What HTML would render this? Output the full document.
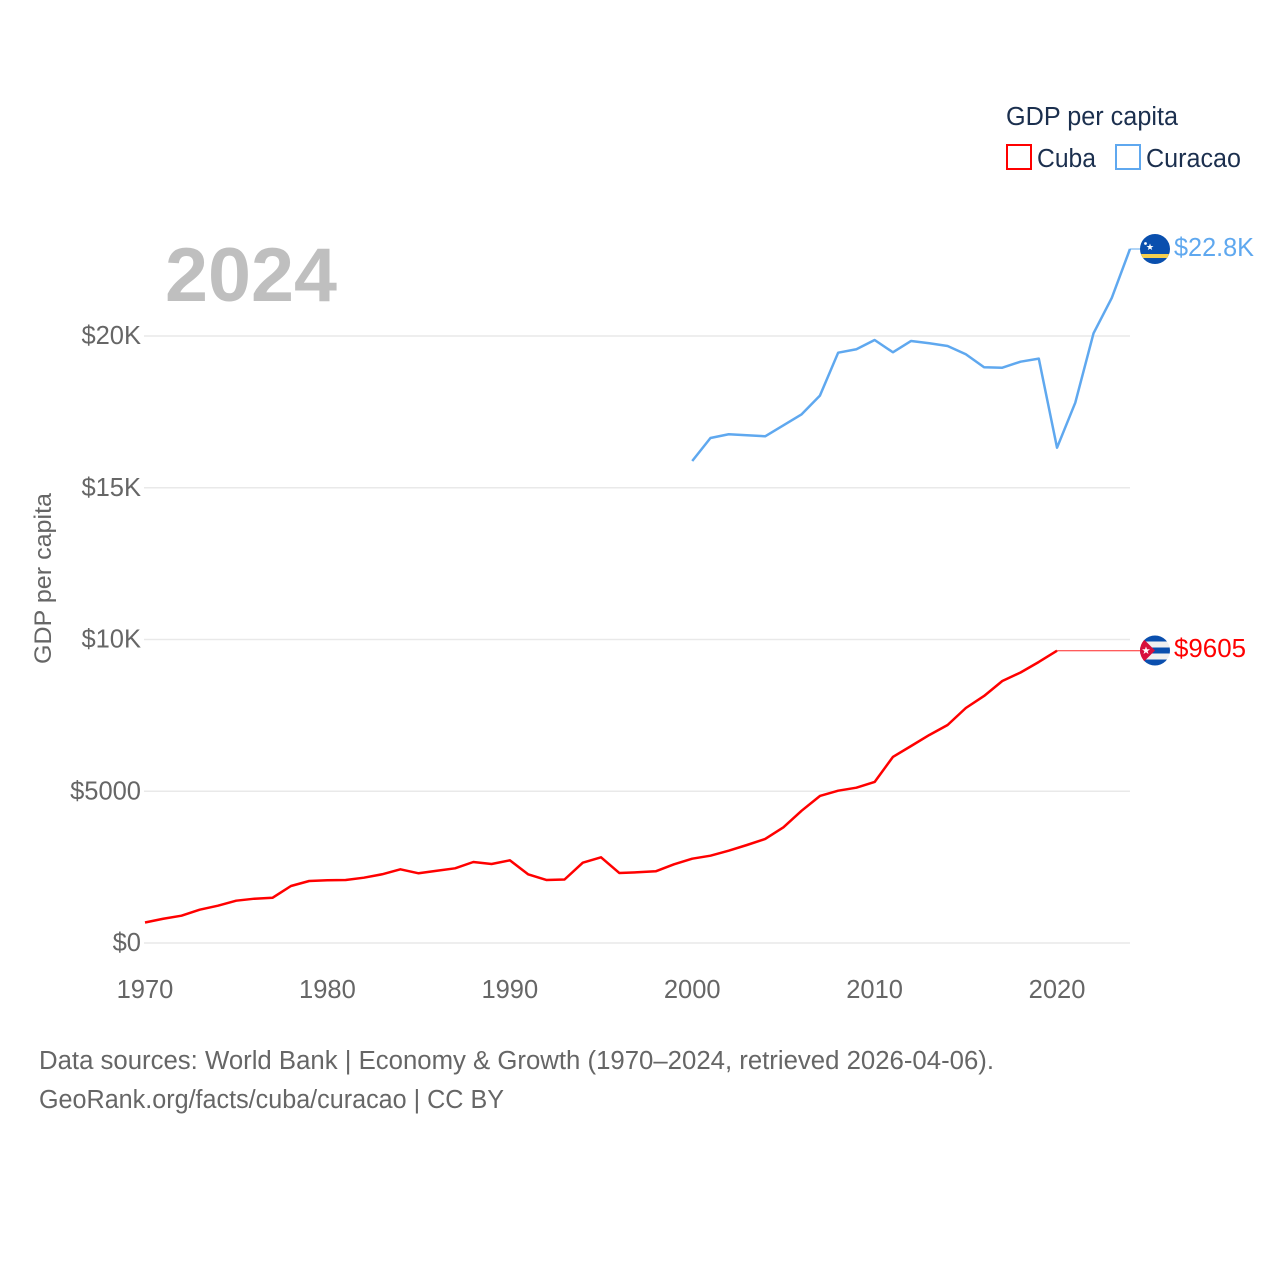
<!DOCTYPE html>
<html lang="en">
<head>
<meta charset="utf-8">
<title>GDP per capita: Cuba and Curacao</title>
<style>
html,body{margin:0;padding:0;background:#fff;width:1280px;height:1280px;overflow:hidden}
svg{display:block}
text{font-family:"Liberation Sans",sans-serif}
</style>
</head>
<body>
<svg id="chart" xmlns="http://www.w3.org/2000/svg" width="1280" height="1280" viewBox="0 0 1280 1280">
  <defs>
    <clipPath id="clip-curacao"><circle cx="1155" cy="249" r="15"/></clipPath>
    <clipPath id="clip-cuba"><circle cx="1155" cy="650.5" r="15"/></clipPath>
  </defs>
  <g id="grid"></g>
  <g id="y-ticks"></g>
  <g id="x-ticks"></g>

  <text x="165" y="301" font-size="76" font-weight="700" fill="#bfbfbf" textLength="172" lengthAdjust="spacingAndGlyphs">2024</text>

  <text transform="translate(51,664) rotate(-90)" font-size="24.5" fill="#666666" textLength="171" lengthAdjust="spacingAndGlyphs">GDP per capita</text>

  <g id="series"></g>

  <g clip-path="url(#clip-curacao)">
    <rect x="1140" y="234" width="30" height="30" fill="#0a4fae"/>
    <rect x="1140" y="254" width="30" height="4" fill="#f6cf4f"/>
    <polygon points="1150,243.5 1150.9,246 1153.5,246 1151.4,247.6 1152.2,250 1150,248.6 1147.8,250 1148.6,247.6 1146.5,246 1149.1,246" fill="#ffffff"/>
    <circle cx="1145.5" cy="243.5" r="1.4" fill="#ffffff"/>
  </g>
  <text x="1174" y="256" font-size="25.5" fill="#5fa8ef" textLength="80" lengthAdjust="spacingAndGlyphs">$22.8K</text>

  <g clip-path="url(#clip-cuba)">
    <rect x="1140" y="635.5" width="30" height="30" fill="#f0f0f0"/>
    <rect x="1140" y="635.5" width="30" height="6" fill="#0a4fae"/>
    <rect x="1140" y="647.5" width="30" height="6" fill="#0a4fae"/>
    <rect x="1140" y="659.5" width="30" height="6" fill="#0a4fae"/>
    <polygon points="1140,635.5 1155,650.5 1140,665.5" fill="#d80f3c"/>
    <polygon points="1146,646.5 1147,649.3 1150,649.3 1147.6,651.1 1148.5,654 1146,652.3 1143.5,654 1144.4,651.1 1142,649.3 1145,649.3" fill="#ffffff"/>
  </g>
  <text x="1174" y="657" font-size="25.5" fill="#ff0000" textLength="72" lengthAdjust="spacingAndGlyphs">$9605</text>

  <g>
    <text x="1006" y="125" font-size="25.5" fill="#1b2f4e" textLength="172" lengthAdjust="spacingAndGlyphs">GDP per capita</text>
    <g>
      <rect x="1007" y="145" width="24" height="24" fill="none" stroke="#ff0000" stroke-width="2"/>
      <text x="1037" y="167" font-size="25.5" fill="#1b2f4e" textLength="59" lengthAdjust="spacingAndGlyphs">Cuba</text>
    </g>
    <g>
      <rect x="1116" y="145" width="24" height="24" fill="none" stroke="#5fa8ef" stroke-width="2"/>
      <text x="1146" y="167" font-size="25.5" fill="#1b2f4e" textLength="95" lengthAdjust="spacingAndGlyphs">Curacao</text>
    </g>
  </g>

  <text x="39" y="1069" font-size="25.5" fill="#666666" textLength="955" lengthAdjust="spacingAndGlyphs">Data sources: World Bank | Economy &amp; Growth (1970–2024, retrieved 2026-04-06).</text>
  <text x="39" y="1108" font-size="25.5" fill="#666666" textLength="465" lengthAdjust="spacingAndGlyphs">GeoRank.org/facts/cuba/curacao | CC BY</text>
</svg>
<script>
const xTickYears = [1970, 1980, 1990, 2000, 2010, 2020];
const yTickValues = [0, 5000, 10000, 15000, 20000];
const yTickLabels = ["$0", "$5000", "$10K", "$15K", "$20K"];
const cubaStartYear = 1970;
const cubaValues = [675, 800, 900, 1097, 1229, 1394, 1460, 1493, 1878, 2043,
  2066, 2076, 2152, 2264, 2428, 2297, 2382, 2461, 2669, 2603,
  2725, 2264, 2076, 2092, 2646, 2824, 2307, 2330, 2363, 2593,
  2778, 2877, 3041, 3229, 3427, 3812, 4359, 4844, 5018, 5117,
  5305, 6129, 6491, 6854, 7183, 7743, 8139, 8633, 8913, 9259, 9630];
const curacaoStartYear = 2000;
const curacaoValues = [15882, 16640, 16762, 16729, 16696, 17058, 17421, 18034, 19450, 19562,
  19869, 19464, 19836, 19760, 19671, 19398, 18969, 18956, 19154, 19253,
  16320, 17803, 20090, 21253, 22867];

const NS = "http://www.w3.org/2000/svg";
function xScale(year) { return 145 + (year - 1970) * (1130 - 145) / 54; }
function yScale(v) { return 943 - v * 0.03035; }
function make(tag, attrs, parent) {
  const el = document.createElementNS(NS, tag);
  for (const k in attrs) el.setAttribute(k, attrs[k]);
  parent.appendChild(el);
  return el;
}
function pathFor(start, values) {
  return values.map((v, i) => (i ? "L" : "M") + xScale(start + i).toFixed(2) + " " + yScale(v).toFixed(2)).join("");
}

const gridG = document.getElementById("grid");
const yG = document.getElementById("y-ticks");
const xG = document.getElementById("x-ticks");
const seriesG = document.getElementById("series");

yTickValues.forEach((v, i) => {
  const line = make("line", {x1: 144, x2: 1130, y1: yScale(v), y2: yScale(v), stroke: "#e9e9e9", "stroke-width": 1.5}, gridG);
  
  
  const t = make("text", {x: 141, y: yScale(v) + 8, "text-anchor": "end", "font-size": 25.5, fill: "#666666"}, yG);
  
  
  t.textContent = yTickLabels[i];
});

xTickYears.forEach((yr) => {
  const t = make("text", {x: xScale(yr), y: 998, "text-anchor": "middle", "font-size": 25.5, fill: "#666666"}, xG);
  
  
  t.textContent = yr;
});

const cubaLast = cubaStartYear + cubaValues.length - 1;
const curacaoLast = curacaoStartYear + curacaoValues.length - 1;

const cubaLink = make("line", {x1: xScale(cubaLast), x2: 1141, y1: yScale(cubaValues[cubaValues.length - 1]), y2: yScale(cubaValues[cubaValues.length - 1]), stroke: "#ff0000", "stroke-width": 1, opacity: 0.85}, seriesG);



const curacaoLink = make("line", {x1: xScale(curacaoLast), x2: 1141, y1: yScale(curacaoValues[curacaoValues.length - 1]), y2: yScale(curacaoValues[curacaoValues.length - 1]), stroke: "#5fa8ef", "stroke-width": 1}, seriesG);



const cubaLine = make("path", {d: pathFor(cubaStartYear, cubaValues), fill: "none", stroke: "#ff0000", "stroke-width": 2.5, "stroke-linejoin": "round"}, seriesG);



const curacaoLine = make("path", {d: pathFor(curacaoStartYear, curacaoValues), fill: "none", stroke: "#5fa8ef", "stroke-width": 2.5, "stroke-linejoin": "round"}, seriesG);


</script>
</body>
</html>
